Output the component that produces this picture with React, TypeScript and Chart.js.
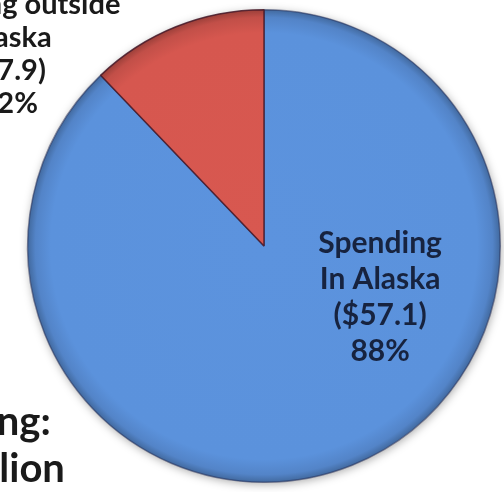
import React, { useEffect, useRef } from "react";
import { Chart, registerables } from "chart.js";

Chart.register(...registerables);

const categories = ["Spending in Alaska", "Spending outside Alaska"];
const amounts = [57.1, 7.9];
const percents = ["88%", "12%"];
const insideLabel = ["Spending", "In Alaska", "($57.1)", "88%"];
const outsideLabel = ["Spending outside", "Alaska", "($7.9)", "12%"];
const totalLabel = ["Total Spending:", "$65.0 billion"];
const baseColors = [
  [92, 147, 222],
  [216, 88, 80],
];

function rgb(c: number[], k: number, a = 1) {
  return `rgba(${Math.round(c[0] * k)},${Math.round(c[1] * k)},${Math.round(c[2] * k)},${a})`;
}

export default function App() {
  const ref = useRef<HTMLCanvasElement | null>(null);
  useEffect(() => {
    if (!ref.current) return;
    const geom = (chart: any) => {
      const a = chart.chartArea;
      return {
        cx: (a.left + a.right) / 2,
        cy: (a.top + a.bottom) / 2,
        r: Math.min(a.right - a.left, a.bottom - a.top) / 2,
      };
    };
    const shadowPlugin = {
      id: "shadow",
      beforeDatasetsDraw(chart: any) {
        const { cx, cy, r } = geom(chart);
        const ctx = chart.ctx;
        ctx.save();
        ctx.shadowColor = "rgba(0,0,0,0.35)";
        ctx.shadowBlur = 10;
        ctx.shadowOffsetX = 1;
        ctx.shadowOffsetY = 2;
        ctx.beginPath();
        ctx.arc(cx, cy, r - 1, 0, Math.PI * 2);
        ctx.fillStyle = "#6a8fc8";
        ctx.fill();
        ctx.restore();
      },
    };
    const labelPlugin = {
      id: "labels",
      afterDraw(chart: any) {
        const { cx, cy, r } = geom(chart);
        const ctx = chart.ctx;
        ctx.save();
        ctx.textAlign = "center";
        ctx.textBaseline = "middle";
        ctx.font = "bold 30px Lato, 'Open Sans', sans-serif";
        ctx.fillStyle = "#17233f";
        const ix = cx + r * 0.49;
        const iy = cy - r * 0.01;
        insideLabel.forEach((t, i) => ctx.fillText(t, ix, iy + i * 36));
        ctx.fillStyle = "#1a1a1a";
        ctx.font = "bold 29px Lato, 'Open Sans', sans-serif";
        const ox = cx - r * 1.075;
        const oy = cy - r * 1.02;
        outsideLabel.forEach((t, i) => ctx.fillText(t, ox, oy + i * 33));
        ctx.font = "bold 40px Lato, 'Open Sans', sans-serif";
        ctx.textAlign = "right";
        ctx.fillText(totalLabel[0], cx - r * 0.9, cy + r * 0.745);
        ctx.fillText(totalLabel[1], cx - r * 0.84, cy + r * 0.94);
        ctx.restore();
      },
    };
    const chart = new Chart(ref.current, {
      type: "pie",
      data: {
        labels: categories,
        datasets: [
          {
            data: amounts,
            backgroundColor: (c: any) => {
              const ch = c.chart;
              if (!ch.chartArea) return rgb(baseColors[c.dataIndex], 1);
              const { cx, cy, r } = geom(ch);
              const g = ch.ctx.createRadialGradient(cx, cy, 0, cx, cy, r);
              const col = baseColors[c.dataIndex];
              g.addColorStop(0, rgb(col, 1.0));
              g.addColorStop(0.9, rgb(col, 0.99));
              g.addColorStop(0.965, rgb(col, 0.9));
              g.addColorStop(1, rgb(col, 0.7));
              return g;
            },
            borderColor: ["rgba(40,50,90,0.55)", "rgba(70,25,40,0.85)"],
            borderWidth: 1.5,
          },
        ],
      },
      options: {
        responsive: false,
        animation: false,
        layout: { padding: { left: 27, right: 3, top: 9, bottom: 9 } },
        plugins: {
          legend: { display: false },
          tooltip: { enabled: false },
        },
      },
      plugins: [shadowPlugin, labelPlugin],
    });
    return () => chart.destroy();
  }, []);
  return (
    <div style={{ position: "fixed", left: 0, top: 0, width: 504, height: 492, background: "#fff" }}>
      <canvas ref={ref} width={504} height={492} style={{ display: "block", width: 504, height: 492 }} />
    </div>
  );
}
